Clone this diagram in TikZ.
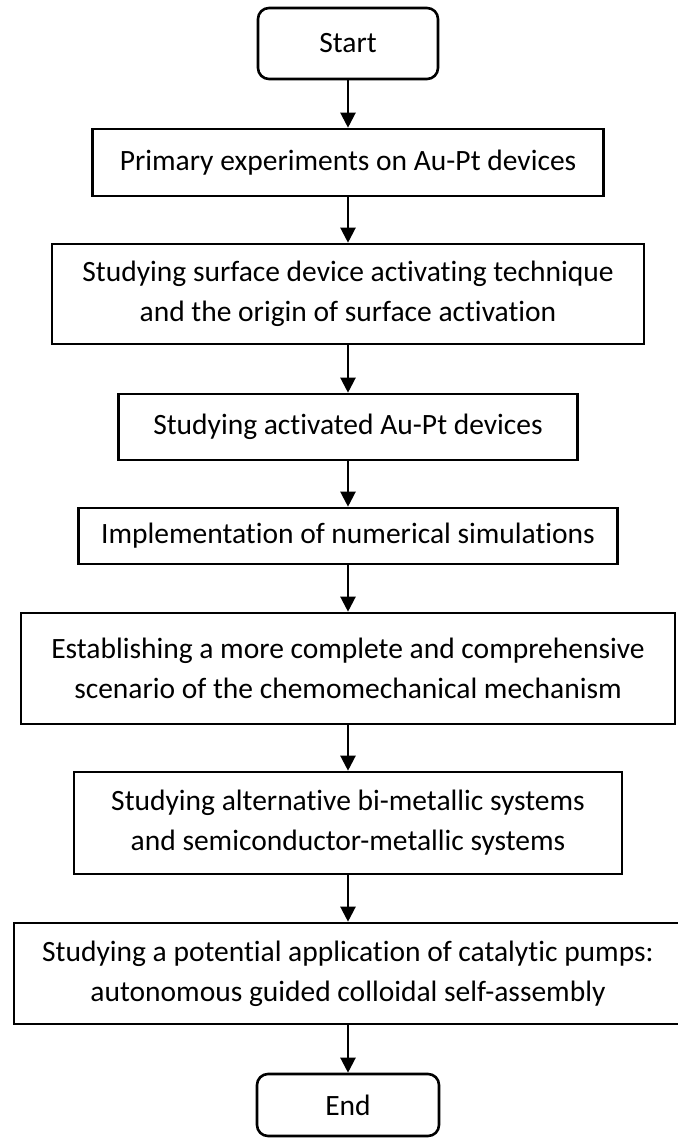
\documentclass[tikz,border=0pt]{standalone}
\usepackage{fontspec}
\setmainfont{Carlito}[Ligatures=NoCommon]
\usetikzlibrary{arrows.meta}
\tikzset{
  box/.style={draw=black, line width=2.6pt, rectangle, align=center,
    inner sep=0pt, font=\fontsize{29.5}{40}\selectfont},
  term/.style={box, rounded corners=11pt},
  flow/.style={line width=2.2pt,
    -{Triangle[length=15pt,width=15pt]}},
}
\begin{document}
\begin{tikzpicture}[x=1pt,y=-1pt]
\useasboundingbox (0,0) rectangle (677,1139);
\node[term, minimum width=180pt, minimum height=71pt] (start) at (348,43.5) {Start};
\node[box, minimum width=511pt, minimum height=67pt] (p1) at (348,162.5)
  {Primary experiments on Au-Pt devices};
\node[box, minimum width=592pt, minimum height=100pt] (p2) at (348,294)
  {Studying surface device activating technique\\and the origin of surface activation};
\node[box, minimum width=459pt, minimum height=66pt] (p3) at (348,427)
  {Studying activated Au-Pt devices};
\node[box, minimum width=539pt, minimum height=56pt] (p4) at (348,536)
  {Implementation of numerical simulations};
\node[box, minimum width=654pt, minimum height=111pt] (p5) at (348,668.5)
  {Establishing a more complete and comprehensive\\scenario of the chemomechanical mechanism};
\node[box, minimum width=548pt, minimum height=102pt] (p6) at (348,823)
  {Studying alternative bi-metallic systems\\and semiconductor-metallic systems};
\node[box, minimum width=668pt, minimum height=101pt] (p7) at (348,973.5)
  {Studying a potential application of catalytic pumps:\\autonomous guided colloidal self-assembly};
\node[term, minimum width=182pt, minimum height=62pt] (end) at (348,1105) {End};
\draw[flow] (start.south) -- (p1.north);
\draw[flow] (p1.south) -- (p2.north);
\draw[flow] (p2.south) -- (p3.north);
\draw[flow] (p3.south) -- (p4.north);
\draw[flow] (p4.south) -- (p5.north);
\draw[flow] (p5.south) -- (p6.north);
\draw[flow] (p6.south) -- (p7.north);
\draw[flow] (p7.south) -- (end.north);
\end{tikzpicture}
\end{document}
